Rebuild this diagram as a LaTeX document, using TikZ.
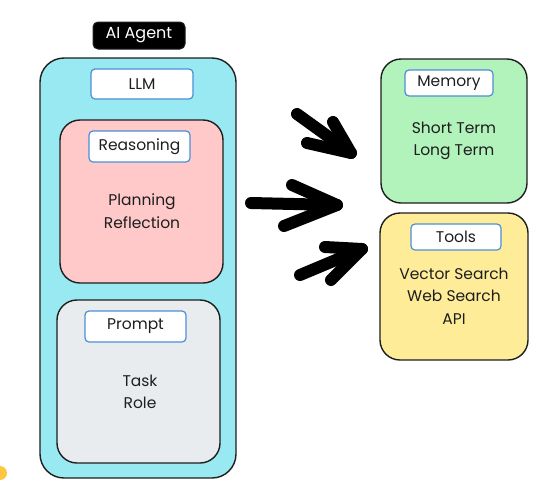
\documentclass[tikz,border=0pt]{standalone}
\usepackage{fontspec}
\setmainfont{Poppins}
\definecolor{agentcyan}{HTML}{99E9F2}
\definecolor{reaspink}{HTML}{FFC9C9}
\definecolor{promptgray}{HTML}{E9ECEF}
\definecolor{memgreen}{HTML}{B2F2BB}
\definecolor{toolyellow}{HTML}{FFEC99}
\definecolor{edge}{HTML}{1E1E1E}
\definecolor{lblblue}{HTML}{4A8FD6}
\definecolor{dotorange}{HTML}{FFC640}
\begin{document}
\begin{tikzpicture}[x=1pt,y=-1pt,
  container/.style={draw=edge,line width=1.4pt,rounded corners=20pt},
  lbl/.style={draw=lblblue,fill=white,line width=1.2pt,rounded corners=4pt,font=\fontsize{15.5}{18}\selectfont,text=edge},
  body/.style={align=center,font=\fontsize{15.5}{22.5}\selectfont,text=edge},
  brush/.style={line width=12pt,line cap=round,line join=round,draw=black}]
\useasboundingbox (0,0) rectangle (556,488);
\fill[white] (0,0) rectangle (556,488);
% bottom-left dot
\fill[dotorange] (0,473) circle (7);
% AI Agent container
\draw[container,fill=agentcyan,rounded corners=24pt] (40,58) rectangle (236,478);
\node[draw=edge,fill=black,line width=1pt,rounded corners=5pt,minimum width=92pt,minimum height=27pt,text=white,font=\fontsize{16}{18}\selectfont] (agent) at (139,35.5) {AI Agent};
\node[lbl,minimum width=102pt,minimum height=30pt] (llm) at (142,84) {LLM};
% Reasoning
\draw[container,fill=reaspink] (60,120) rectangle (223,283);
\node[lbl,minimum width=101pt,minimum height=31pt] (reas) at (139.5,146.5) {Reasoning};
\node[body] (reasbody) at (142,211) {Planning\\Reflection};
% Prompt
\draw[container,fill=promptgray] (57,300) rectangle (220,463);
\node[lbl,minimum width=101pt,minimum height=31pt] (prompt) at (135.5,326.5) {Prompt};
\node[body] (promptbody) at (140,392) {Task\\Role};
% Memory
\draw[container,fill=memgreen] (381,59) rectangle (527,203);
\node[lbl,minimum width=88pt,minimum height=26pt] (mem) at (449,83) {Memory};
\node[body] (membody) at (454,141) {Short Term\\Long Term};
% Tools
\draw[container,fill=toolyellow] (380,213) rectangle (528,360);
\node[lbl,minimum width=90pt,minimum height=26pt] (tools) at (456,237) {Tools};
\node[body] (toolsbody) at (454,296) {Vector Search\\Web Search\\API};
% brush arrows
\coordinate (a1t) at (297,114); \coordinate (a1h) at (351,153);
\coordinate (a1u) at (333,122); \coordinate (a1l) at (307,143);
\coordinate (a2t) at (251,203); \coordinate (a2h) at (337,205);
\coordinate (a2u) at (292,185); \coordinate (a2l) at (284,226);
\coordinate (a3t) at (300,275); \coordinate (a3h) at (362,249);
\coordinate (a3u) at (325,247); \coordinate (a3l) at (331,280);
\draw[brush] (a1t) -- (a1h);
\draw[brush] (a1u) -- (a1h) -- (a1l);
\draw[brush] (a2t) -- (a2h);
\draw[brush] (a2u) -- (a2h) -- (a2l);
\draw[brush] (a3t) -- (a3h);
\draw[brush] (a3u) -- (a3h) -- (a3l);
\end{tikzpicture}
\end{document}
